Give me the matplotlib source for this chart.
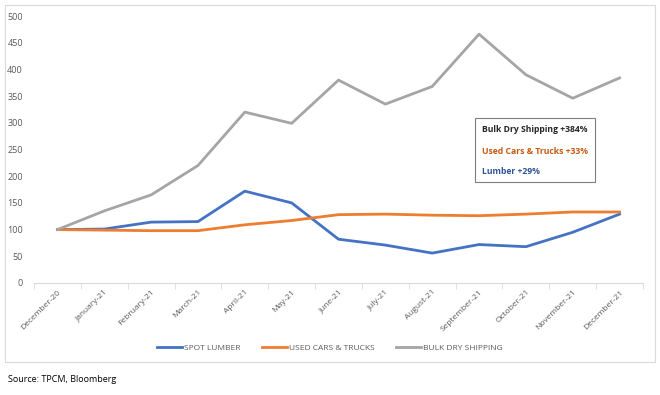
import matplotlib.pyplot as plt
from matplotlib.patches import Rectangle

months = ['December-20', 'January-21', 'February-21', 'March-21', 'April-21', 'May-21',
          'June-21', 'July-21', 'August-21', 'September-21', 'October-21',
          'November-21', 'December-21']
lumber = [100, 101, 114, 115, 172, 150, 82, 71, 56, 72, 68, 95, 129]
cars = [100, 99, 98, 98, 109, 117, 128, 129, 127, 126, 129, 133, 133]
bulk = [100, 135, 165, 220, 320, 299, 380, 335, 368, 466, 390, 346, 384]

plt.rcParams['font.family'] = ['Open Sans', 'DejaVu Sans']
fig = plt.figure(figsize=(6.6, 3.95), dpi=100)

# outer chart frame
fig.patches.append(Rectangle((5 / 660, 1 - 362 / 395), 650 / 660, 357 / 395,
                             transform=fig.transFigure, fill=False,
                             edgecolor='#d9d9d9', lw=0.8))

ax = fig.add_axes([34 / 660, 1 - 283 / 395, 609 / 660, 267 / 395])
x = range(len(months))
ax.plot(x, lumber, color='#4472C4', lw=2, label='SPOT LUMBER')
ax.plot(x, cars, color='#ED7D31', lw=2, label='USED CARS & TRUCKS')
ax.plot(x, bulk, color='#A5A5A5', lw=2, label='BULK DRY SHIPPING')

ax.set_xlim(-0.5, len(months) - 0.5)
ax.set_ylim(0, 500)
ax.set_yticks(range(0, 501, 50))
ax.set_xticks(list(x))
ax.set_xticklabels(months, rotation=45, ha='right', rotation_mode='anchor')
ax.set_xticks([i - 0.5 for i in range(len(months) + 1)], minor=True)
ax.tick_params(axis='x', which='major', length=0, labelsize=6, colors='#595959', pad=4)
ax.tick_params(axis='x', which='minor', length=4, color='#d9d9d9')
ax.tick_params(axis='y', length=0, labelsize=6.5, colors='#595959', pad=8)
for s in ['top', 'right', 'left']:
    ax.spines[s].set_visible(False)
ax.spines['bottom'].set_color('#d9d9d9')

fig.legend(loc='center', bbox_to_anchor=(330 / 660, 1 - 348 / 395), ncol=3,
           frameon=False, fontsize=6, handlelength=3, columnspacing=2.5,
           handletextpad=0.3, labelcolor='#595959')

# annotation box
fig.patches.append(Rectangle((475 / 660, 1 - 182 / 395), 120 / 660, 64 / 395,
                             transform=fig.transFigure, facecolor='white',
                             edgecolor='#7f7f7f', lw=0.8))
fig.text(482 / 660, 1 - 130 / 395, 'Bulk Dry Shipping +384%', fontsize=6.2,
         fontweight='bold', color='#262626', va='center')
fig.text(482 / 660, 1 - 151 / 395, 'Used Cars & Trucks +33%', fontsize=6.2,
         fontweight='bold', color='#C55A11', va='center')
fig.text(482 / 660, 1 - 172 / 395, 'Lumber +29%', fontsize=6.2,
         fontweight='bold', color='#2F5597', va='center')

fig.text(8 / 660, 1 - 380 / 395, 'Source: TPCM, Bloomberg', fontsize=6.5,
         color='black', va='center')

fig.savefig('out.png', dpi=100)
